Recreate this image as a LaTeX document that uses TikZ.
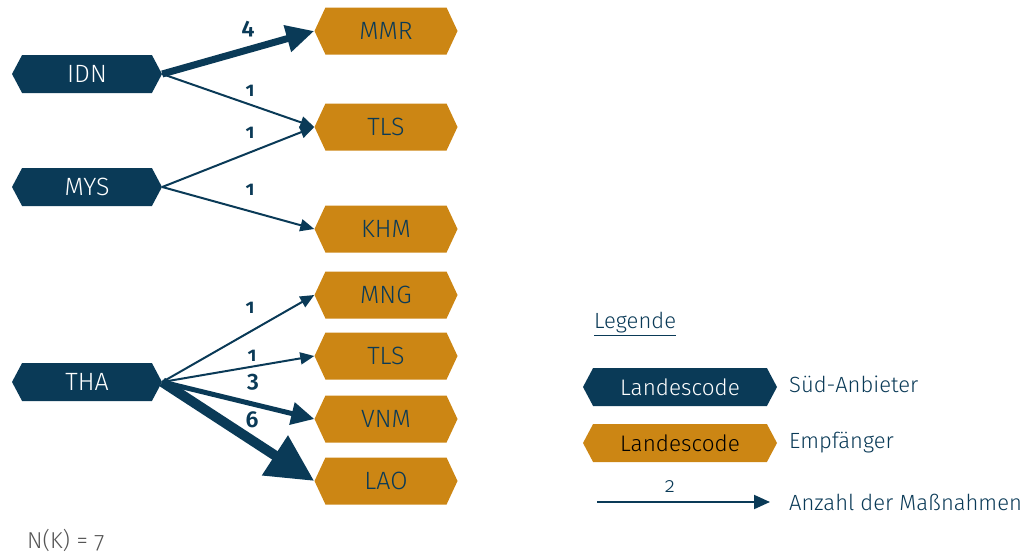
\documentclass[tikz,border=0pt]{standalone}
\usepackage{fontspec}
\setmainfont{Fira Sans}[UprightFont=* Light, BoldFont=* SemiBold, Numbers=OldStyle]
\usetikzlibrary{shapes.symbols,arrows.meta}
\definecolor{navy}{HTML}{0A3A57}
\definecolor{ochre}{HTML}{CC8614}
\definecolor{note}{HTML}{555555}
\begin{document}
\begin{tikzpicture}[x=1pt,y=-1pt,
  hex/.style={signal, signal to=east and west, inner sep=0pt, font=\fontsize{25}{25}\selectfont},
  src/.style={hex, signal pointer angle=124, fill=navy, text=white, minimum width=150pt, minimum height=38pt},
  dst/.style={hex, signal pointer angle=130, fill=ochre, text=navy, minimum width=143pt, minimum height=47pt},
  leghex/.style={hex, signal pointer angle=124, minimum width=194pt, minimum height=38pt, font=\fontsize{22.5}{22.5}\selectfont},
  flow/.style={draw=navy, line width=2pt, -{Triangle[length=14pt,width=12pt]}},
  flowiii/.style={draw=navy, line width=5pt, -{Triangle[length=23pt,width=22pt]}},
  flowiv/.style={draw=navy, line width=7pt, -{Triangle[length=28pt,width=26pt]}},
  flowvi/.style={draw=navy, line width=10pt, -{Triangle[length=47pt,width=45pt]}},
  num/.style={text=navy, font=\bfseries\fontsize{20}{20}\selectfont, inner sep=0pt},
  bignum/.style={text=navy, font=\bfseries\fontsize{23}{23}\selectfont, inner sep=0pt},
  legtext/.style={text=navy, anchor=west, inner sep=0pt, font=\fontsize{22}{22}\selectfont}
]
\useasboundingbox (0,0) rectangle (1036,554);

% providers
\node[src] (idn) at (87,74) {IDN};
\node[src] (mys) at (87,187) {MYS};
\node[src] (tha) at (87,382) {THA};

% recipients
\node[dst] (mmr) at (386,31) {MMR};
\node[dst] (tls) at (386,127) {TLS};
\node[dst] (khm) at (386,229) {KHM};
\node[dst] (mng) at (386,295) {MNG};
\node[dst] (tlsb) at (386,356) {TLS};
\node[dst] (vnm) at (386,419) {VNM};
\node[dst] (lao) at (386,481) {LAO};

% flows
\draw[flowiv] (idn.east) -- (mmr.west);
\draw[flow] (idn.east) -- (tls.west);
\draw[flow] (mys.east) -- (tls.west);
\draw[flow] (mys.east) -- (khm.west);
\draw[flow] (tha.east) -- (mng.west);
\draw[flow] (tha.east) -- (tlsb.west);
\draw[flowiii] (tha.east) -- (vnm.west);
\draw[flowvi] (tha.east) -- (lao.west);

% flow counts
\node[bignum] (n1) at (248,29) {4};
\node[num] (n2) at (250,91) {1};
\node[num] (n3) at (250,133) {1};
\node[num] (n4) at (250,190) {1};
\node[num] (n5) at (250,308) {1};
\node[num] (n6) at (252,356) {1};
\node[bignum] (n7) at (253,382) {3};
\node[bignum] (n8) at (252,420) {6};

% legend
\node[legtext] (leg) at (594,324) {\underline{Legende}};
\node[leghex, fill=navy, text=white] (lsrc) at (680,387) {Landescode};
\node[legtext] (lsrct) at (789,384) {Süd-Anbieter};
\node[leghex, fill=ochre, text=black] (ldst) at (680,443) {Landescode};
\node[legtext] (ldstt) at (789,443) {Empfänger};
\coordinate (la) at (597,502);
\coordinate (lb) at (770,502);
\draw[flow, -{Triangle[length=16pt,width=14pt]}] (la) -- (lb);
\node[text=navy, font=\fontsize{21}{21}\selectfont, inner sep=0pt] (l2) at (670,487) {2};
\node[legtext] (lflowt) at (789,502) {Anzahl der Maßnahmen};

\node[text=note, anchor=west, inner sep=0pt, font=\fontsize{23}{23}\selectfont] (nk) at (27,540) {N(K) = 7};
\end{tikzpicture}
\end{document}
